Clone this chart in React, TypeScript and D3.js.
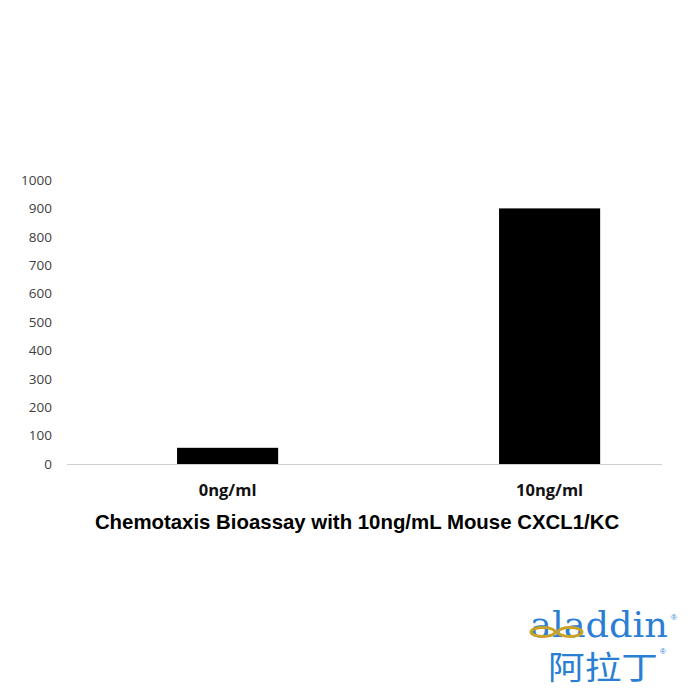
import React from "react";
import * as d3 from "d3";

const categories = ["0ng/ml", "10ng/ml"];
const values = [57, 900];
const yTicks = [0, 100, 200, 300, 400, 500, 600, 700, 800, 900, 1000];
const title = "Chemotaxis Bioassay with 10ng/mL Mouse CXCL1/KC";

export default function App() {
  const W = 700, H = 700;
  const y = d3.scaleLinear().domain([0, 1000]).range([464, 180]);
  const x = d3.scaleBand<string>().domain(categories).range([66.6, 710.6]).paddingInner(0.686).paddingOuter(0.343);
  return (
    <svg width={W} height={H} style={{ position: "absolute", left: 0, top: 0, background: "#fff" }}>
      <rect width={W} height={H} fill="#fff" />
      {yTicks.map((t) => (
        <text key={t} x={52} y={y(t)} dy="0.35em" textAnchor="end" fontFamily="'Open Sans', sans-serif" fontSize={13.5} fill="#404040">
          {t}
        </text>
      ))}
      {categories.map((c, i) => (
        <rect key={c} x={x(c)} y={y(values[i])} width={x.bandwidth()} height={y(0) - y(values[i])} fill="#000" />
      ))}
      <line x1={67} x2={662} y1={y(0) + 0.5} y2={y(0) + 0.5} stroke="#d0d0d0" strokeWidth={1} />
      {categories.map((c) => (
        <text key={c} x={(x(c) as number) + x.bandwidth() / 2} y={496} textAnchor="middle" fontFamily="'Open Sans', sans-serif" fontWeight="bold" fontSize={16.5} fill="#111">
          {c}
        </text>
      ))}
      <text x={357} y={529} textAnchor="middle" fontFamily="'Liberation Sans', Arial, sans-serif" fontWeight="bold" fontSize={20.4} fill="#000">
        {title}
      </text>
      <g>
        <text x={530} y={637} fontFamily="'DejaVu Serif', serif" fontSize={36} fill="#2a7fd4" textLength={138} lengthAdjust="spacingAndGlyphs">aladdin</text>
        <ellipse cx={543} cy={632} rx={12} ry={4.5} fill="none" stroke="#c9a227" strokeWidth={3} />
        <ellipse cx={570} cy={632} rx={12} ry={4.5} fill="none" stroke="#c9a227" strokeWidth={3} />
        <text x={671} y={620} fontFamily="sans-serif" fontSize={8} fill="#2a7fd4">®</text>
        <text x={548} y={679} fontFamily="'Noto Sans CJK SC', sans-serif" fontSize={32} fill="#2a7fd4" textLength={110} lengthAdjust="spacingAndGlyphs">阿拉丁</text>
        <text x={660} y={654} fontFamily="sans-serif" fontSize={8} fill="#2a7fd4">®</text>
      </g>
    </svg>
  );
}
